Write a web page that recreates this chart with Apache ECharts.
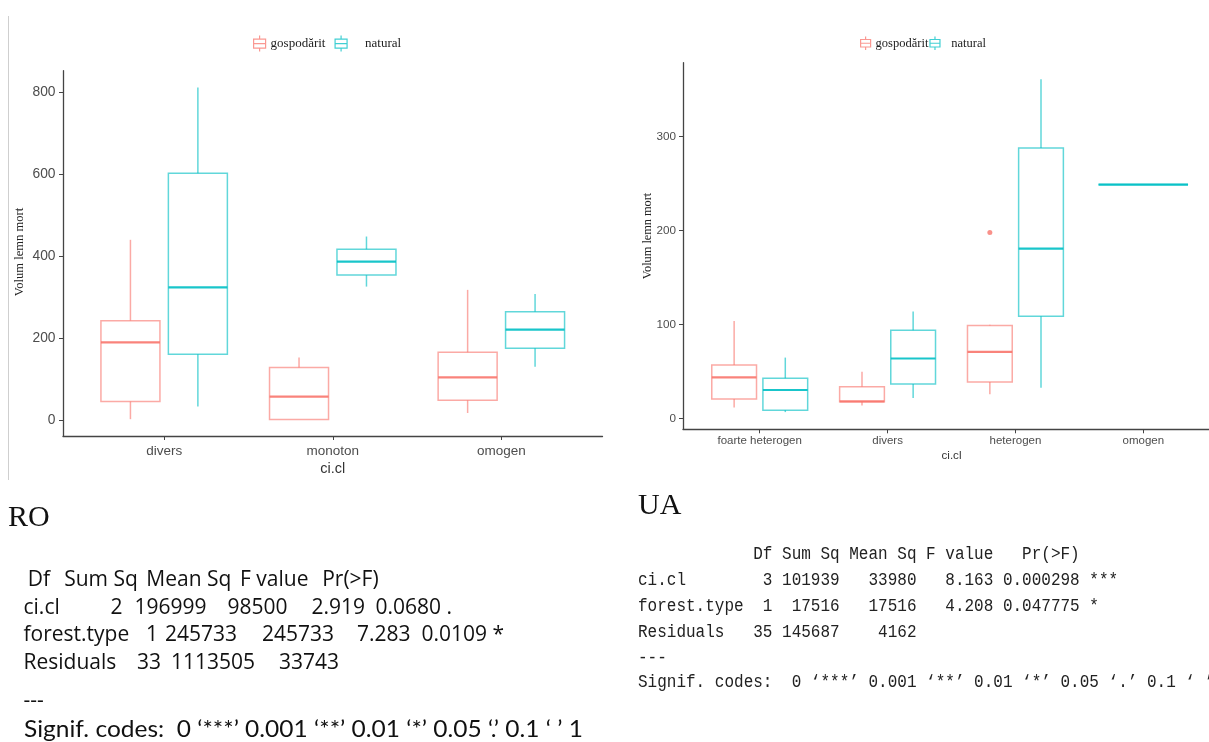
<!DOCTYPE html>
<html>
<head>
<meta charset="utf-8">
<script src="https://cdn.jsdelivr.net/npm/echarts@6/dist/echarts.min.js"></script>
<style>
  html, body { margin: 0; padding: 0; background: #fff; }
  #chart { width: 1209px; height: 742px; }
</style>
</head>
<body>
<div id="chart"></div>
<script>
// ---- RO: dead wood volume by ci.cl class, five-number summaries [min, Q1, median, Q3, max]
const categoriesRO = ['divers', 'monoton', 'omogen'];
const gospodaritRO = [[3, 46, 190, 243, 440], [2, 2, 58, 129, 153], [18, 49, 105, 166, 318]];
const naturalRO = [[34, 161, 324, 602, 811], [326, 354, 387, 417, 448], [131, 176, 221, 265, 308]];
const yTicksRO = [0, 200, 400, 600, 800];

// ---- UA
const categoriesUA = ['foarte heterogen', 'divers', 'heterogen', 'omogen'];
const gospodaritUA = [[12, 21, 44, 57, 104], [14, 18, 18.5, 34, 50], [26, 39, 71, 99, 100], null];
const naturalUA = [[7, 9, 30.5, 43, 65], [22, 37, 64, 94, 114], [33, 109, 181, 288, 361], [249, 249, 249, 249, 249]];
const outliersGospodaritUA = [[2, 198]];
const yTicksUA = [0, 100, 200, 300];

// ---- ANOVA tables
const anovaROHeader = ['Df', 'Sum Sq', 'Mean Sq', 'F value', 'Pr(>F)'];
const anovaROCiCl = ['ci.cl', '2', '196999', '98500', '2.919', '0.0680 .'];
const anovaROForest = ['forest.type', '1', '245733', '245733', '7.283', '0.0109 *'];
const anovaROResiduals = ['Residuals', '33', '1113505', '33743'];
const anovaROSep = '---';
const anovaROSignif = 'Signif. codes:  0 \u2018***\u2019 0.001 \u2018**\u2019 0.01 \u2018*\u2019 0.05 \u2018.\u2019 0.1 \u2018 \u2019 1';

const anovaUALines = [
  '            Df Sum Sq Mean Sq F value   Pr(>F)    ',
  'ci.cl        3 101939   33980   8.163 0.000298 ***',
  'forest.type  1  17516   17516   4.208 0.047775 *  ',
  'Residuals   35 145687    4162                     ',
  '---',
  'Signif. codes:  0 \u2018***\u2019 0.001 \u2018**\u2019 0.01 \u2018*\u2019 0.05 \u2018.\u2019 0.1 \u2018 \u2019 1'
];

const seriesNames = ['gospodărit', 'natural'];

// ---- styling
const COLORS = { 'gospodărit': '#F8766D', 'natural': '#00BFC4' };
const SANS = '"Liberation Sans", Arial, sans-serif';
const SERIF = '"Liberation Serif", "Times New Roman", serif';
const AXIS_COLOR = '#444';
const LABEL_COLOR = '#4d4d4d';

// Box (ggplot-like, dodged): paired categories get two slots, single ones span the dodge width
function boxSeries(name, stats, other, side, axisIndex) {
  const color = COLORS[name];
  const data = [];
  stats.forEach((s, i) => {
    if (s) data.push([i].concat(s, [other[i] ? 1 : 0]));
  });
  return {
    name: name,
    type: 'custom',
    coordinateSystem: 'cartesian2d',
    xAxisIndex: axisIndex,
    yAxisIndex: axisIndex,
    encode: { x: 0, y: [1, 2, 3, 4, 5] },
    itemStyle: { color: color },
    data: data,
    renderItem: function (params, api) {
      const i = api.value(0);
      const paired = api.value(6) === 1;
      const band = api.size([1, 0])[0];
      const off = paired ? side * 0.2 : 0;
      const w = (paired ? 0.35 : 0.7) * band;
      const cx = api.coord([i + off, 0])[0];
      const y = k => api.coord([i, api.value(k)])[1];
      const yMin = y(1), yQ1 = y(2), yMed = y(3), yQ3 = y(4), yMax = y(5);
      const x0 = cx - w / 2;
      const thin = { stroke: color, lineWidth: 1.5, opacity: 0.62, fill: null };
      return {
        type: 'group',
        children: [
          { type: 'line', shape: { x1: cx, y1: yMax, x2: cx, y2: yQ3 }, style: thin },
          { type: 'line', shape: { x1: cx, y1: yQ1, x2: cx, y2: yMin }, style: thin },
          { type: 'rect', shape: { x: x0, y: yQ3, width: w, height: yQ1 - yQ3 }, style: thin },
          { type: 'line', shape: { x1: x0, y1: yMed, x2: x0 + w, y2: yMed },
            style: { stroke: color, lineWidth: 2.2, opacity: 0.9 } }
        ]
      };
    }
  };
}

function xAxis(gridIndex, cats, fontSize, labelMargin, nameSize, nameGap) {
  const idx = cats.map((c, i) => i);
  return {
    type: 'value',
    gridIndex: gridIndex,
    min: -0.6,
    max: cats.length - 1 + 0.6,
    name: 'ci.cl',
    nameLocation: 'middle',
    nameGap: nameGap,
    nameTextStyle: { fontFamily: SANS, fontSize: nameSize, color: '#333' },
    axisLine: { show: true, onZero: false, lineStyle: { color: AXIS_COLOR, width: 1.3 } },
    axisTick: { show: true, length: 4, customValues: idx, lineStyle: { color: AXIS_COLOR, width: 1 } },
    axisLabel: {
      customValues: idx,
      formatter: v => cats[Math.round(v)],
      fontFamily: SANS, fontSize: fontSize, color: LABEL_COLOR, margin: labelMargin
    },
    splitLine: { show: false }
  };
}

function yAxis(gridIndex, min, max, ticks, fontSize, labelMargin) {
  return {
    type: 'value',
    gridIndex: gridIndex,
    min: min,
    max: max,
    axisLine: { show: true, onZero: false, lineStyle: { color: AXIS_COLOR, width: 1.3 } },
    axisTick: { show: true, length: 4, customValues: ticks, lineStyle: { color: AXIS_COLOR, width: 1 } },
    axisLabel: {
      customValues: ticks,
      fontFamily: SANS, fontSize: fontSize, color: LABEL_COLOR, margin: labelMargin
    },
    splitLine: { show: false }
  };
}

// boxplot key: whisker stub, box with median, whisker stub
const BOX_ICON = 'path://M6,0L6,3.5M0,3.5L12,3.5L12,12.5L0,12.5ZM0,8L12,8M6,12.5L6,16';
function legendItems() {
  return seriesNames.map(n => ({
    name: n,
    icon: BOX_ICON,
    itemStyle: { color: 'rgba(0,0,0,0)', borderColor: COLORS[n], borderWidth: 1.2, opacity: 0.75 }
  }));
}

// ANOVA text helpers
const RO_FONT = '21px "Open Sans", Lato, sans-serif';
const RO_SIGNIF_FONT = '23px Lato, "Open Sans", sans-serif';
function tokenRow(tokens, xs, y, font) {
  return tokens.map((t, k) => ({
    type: 'text', x: xs[k], y: y, silent: true,
    style: { text: t, font: font || RO_FONT, fill: '#111', textAlign: 'left', textVerticalAlign: 'middle',
             align: 'left', verticalAlign: 'middle' }
  }));
}
// horizontal scale that stretches a line of text to a given width
function fitScale(text, font, width) {
  const ctx = document.createElement('canvas').getContext('2d');
  ctx.font = font;
  return width / ctx.measureText(text).width;
}

const roTextX = {
  header: [27.7, 64.2, 146.3, 240, 322.2],
  ciCl: [23.5, 110.5, 134.5, 227.5, 311.5, 375.5],
  forest: [23.5, 146, 165, 262, 357, 421.5],
  residuals: [23.5, 137, 171, 279]
};
const roTextY = [580, 607.7, 635, 662.7, 701, 730];
const uaTextY = [554, 580, 606.5, 632.5, 658, 682];

const graphic = [
  // thin frame line on the left margin
  { type: 'line', shape: { x1: 8.5, y1: 16, x2: 8.5, y2: 480 }, silent: true,
    style: { stroke: '#cfcfcf', lineWidth: 1 } },
  // y-axis titles
  { type: 'text', x: 20, y: 252, rotation: Math.PI / 2, silent: true,
    style: { text: 'Volum lemn mort', font: '12.6px ' + SERIF, fill: '#222',
             textAlign: 'center', textVerticalAlign: 'middle', align: 'center', verticalAlign: 'middle' } },
  { type: 'text', x: 648, y: 236, rotation: Math.PI / 2, silent: true,
    style: { text: 'Volum lemn mort', font: '12.3px ' + SERIF, fill: '#222',
             textAlign: 'center', textVerticalAlign: 'middle', align: 'center', verticalAlign: 'middle' } },
  // panel captions
  { type: 'text', x: 8, y: 518, silent: true,
    style: { text: 'RO', font: '30px ' + SERIF, fill: '#111',
             textAlign: 'left', textVerticalAlign: 'middle', align: 'left', verticalAlign: 'middle' } },
  { type: 'text', x: 638, y: 506, silent: true,
    style: { text: 'UA', font: '30px ' + SERIF, fill: '#111',
             textAlign: 'left', textVerticalAlign: 'middle', align: 'left', verticalAlign: 'middle' } },
  // significance legend line, stretched across the table width
  { type: 'text', x: 24, y: roTextY[5], silent: true,
    scaleX: fitScale(anovaROSignif, RO_SIGNIF_FONT, 559),
    style: { text: anovaROSignif, font: RO_SIGNIF_FONT, fill: '#111',
             textAlign: 'left', textVerticalAlign: 'middle', align: 'left', verticalAlign: 'middle' } }
]
  .concat(tokenRow(anovaROHeader, roTextX.header, roTextY[0]))
  .concat(tokenRow(anovaROCiCl, roTextX.ciCl, roTextY[1]))
  .concat(tokenRow(anovaROForest, roTextX.forest, roTextY[2]))
  .concat(tokenRow(anovaROResiduals, roTextX.residuals, roTextY[3]))
  .concat(tokenRow([anovaROSep], [23.5], roTextY[4]))
  .concat(anovaUALines.map((line, k) => ({
    type: 'text', x: 638, y: uaTextY[k], scaleX: 0.889, silent: true,
    style: { text: line, font: '18px "Liberation Mono", monospace', fill: '#222',
             textAlign: 'left', textVerticalAlign: 'middle', align: 'left', verticalAlign: 'middle' }
  })));

const chart = echarts.init(document.getElementById('chart'), null, { renderer: 'canvas' });
chart.setOption({
  backgroundColor: '#fff',
  animation: false,
  grid: [
    { left: 63, top: 70.7, width: 539.5, height: 365.3, containLabel: false, outerBoundsMode: 'none' },
    { left: 683, top: 62.7, width: 537, height: 366.6, containLabel: false, outerBoundsMode: 'none' }
  ],
  legend: [
    {
      left: 253, top: 35, padding: 0, itemWidth: 12, itemHeight: 16, itemGap: 9,
      selectedMode: false,
      data: legendItems(),
      formatter: n => (n === 'natural' ? '    natural' : n),
      textStyle: { fontFamily: SERIF, fontSize: 13, color: '#222' }
    },
    {
      left: 860, top: 36, padding: 0, itemWidth: 10, itemHeight: 14, itemGap: 1,
      selectedMode: false,
      data: legendItems(),
      formatter: n => (n === 'natural' ? '  natural' : n),
      textStyle: { fontFamily: SERIF, fontSize: 12.5, color: '#222' }
    }
  ],
  xAxis: [
    xAxis(0, categoriesRO, 13.5, 8, 14.5, 25),
    xAxis(1, categoriesUA, 11.5, 6, 11.6, 20)
  ],
  yAxis: [
    yAxis(0, -38, 852, yTicksRO, 13.8, 7.5),
    yAxis(1, -11.3, 378.7, yTicksUA, 11.7, 7)
  ],
  series: [
    boxSeries('gospodărit', gospodaritRO, naturalRO, -1, 0),
    boxSeries('natural', naturalRO, gospodaritRO, 1, 0),
    boxSeries('gospodărit', gospodaritUA, naturalUA, -1, 1),
    boxSeries('natural', naturalUA, gospodaritUA, 1, 1),
    {
      name: 'gospodărit',
      type: 'scatter',
      xAxisIndex: 1,
      yAxisIndex: 1,
      symbol: 'circle',
      symbolSize: 5,
      itemStyle: { color: '#F8766D' },
      // outliers sit at the centre of the gospodărit slot
      data: outliersGospodaritUA.map(p => [p[0] - 0.2, p[1]])
    }
  ],
  graphic: graphic
});
</script>
</body>
</html>
